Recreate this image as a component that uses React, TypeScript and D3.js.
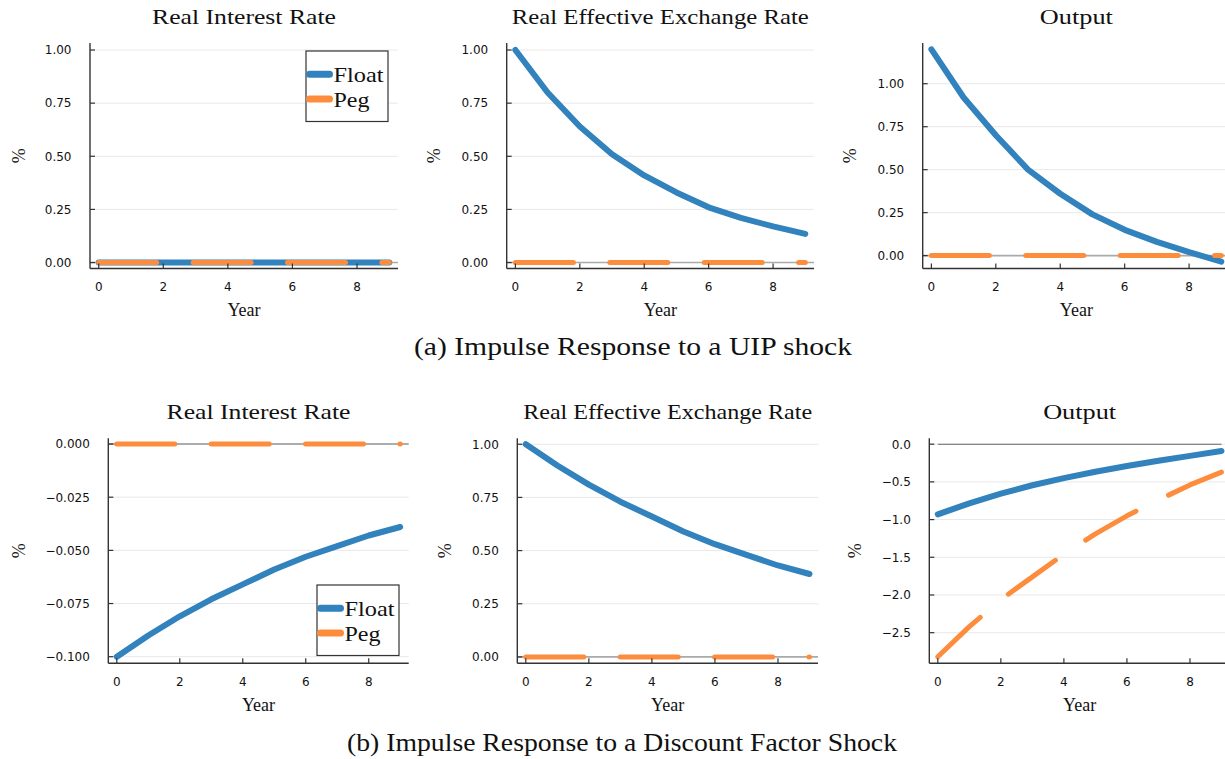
import React from 'react';
import * as d3 from 'd3';

// ---------- data ----------
const years = [0, 1, 2, 3, 4, 5, 6, 7, 8, 9];
const xTicks = [0, 2, 4, 6, 8];
const seriesNames = ['Float', 'Peg'];

const uipRateFloat = [0, 0, 0, 0, 0, 0, 0, 0, 0, 0];
const uipRatePeg = [0, 0, 0, 0, 0, 0, 0, 0, 0, 0];
const uipReerFloat = [1.0, 0.8, 0.64, 0.51, 0.41, 0.33, 0.26, 0.21, 0.17, 0.135];
const uipReerPeg = [0, 0, 0, 0, 0, 0, 0, 0, 0, 0];
const uipOutputFloat = [1.2, 0.92, 0.7, 0.5, 0.36, 0.24, 0.15, 0.08, 0.02, -0.035];
const uipOutputPeg = [0, 0, 0, 0, 0, 0, 0, 0, 0, 0];

const dfRateFloat = [-0.1, -0.09, -0.081, -0.073, -0.066, -0.059, -0.053, -0.048, -0.043, -0.039];
const dfRatePeg = [0, 0, 0, 0, 0, 0, 0, 0, 0, 0];
const dfReerFloat = [1.0, 0.9, 0.81, 0.73, 0.66, 0.59, 0.53, 0.48, 0.43, 0.39];
const dfReerPeg = [0, 0, 0, 0, 0, 0, 0, 0, 0, 0];
const dfOutputFloat = [-0.93, -0.785, -0.655, -0.545, -0.45, -0.365, -0.29, -0.22, -0.155, -0.09];
const dfOutputPeg = [-2.82, -2.42, -2.06, -1.76, -1.46, -1.19, -0.95, -0.74, -0.54, -0.37];

const ticksUnit = [0, 0.25, 0.5, 0.75, 1.0];
const ticksDfRate = [0, -0.025, -0.05, -0.075, -0.1];
const ticksDfOutput = [0, -0.5, -1.0, -1.5, -2.0, -2.5];

const titles = ['Real Interest Rate', 'Real Effective Exchange Rate', 'Output'];
const captions = ['(a) Impulse Response to a UIP shock', '(b) Impulse Response to a Discount Factor Shock'];
const xLabel = 'Year';
const yLabel = '%';

// ---------- layout / style ----------
const BLUE = '#3182bd';
const ORANGE = '#fd8d3c';
const SERIF = '"Liberation Serif", "Times New Roman", serif';
const SANS = '"DejaVu Sans", sans-serif';

const TOP_ROW = { top: 43, bottom: 268.5 };
const BOT_ROW = { top: 438.3, bottom: 663.3 };

type Panel = {
  title: string; titleLen: number;
  float: number[]; peg: number[];
  yDomain: [number, number]; yTicks: number[]; fmt: string;
  left: number; right: number; top: number; bottom: number;
  zero: { color: string; w: number; full: boolean };
  legend?: { x: number; y: number };
  pctX: number;
};

const panels: Panel[] = [
  { title: titles[0], titleLen: 184, float: uipRateFloat, peg: uipRatePeg, yDomain: [-0.028, 1.033], yTicks: ticksUnit, fmt: '.2f',
    left: 90, right: 398, ...TOP_ROW, zero: { color: '#aaaaaa', w: 1.6, full: true }, legend: { x: 306, y: 51 }, pctX: 20 },
  { title: titles[1], titleLen: 297, float: uipReerFloat, peg: uipReerPeg, yDomain: [-0.028, 1.033], yTicks: ticksUnit, fmt: '.2f',
    left: 506.7, right: 814, ...TOP_ROW, zero: { color: '#aaaaaa', w: 1.6, full: true }, pctX: 435 },
  { title: titles[2], titleLen: 73, float: uipOutputFloat, peg: uipOutputPeg, yDomain: [-0.075, 1.237], yTicks: ticksUnit, fmt: '.2f',
    left: 922.7, right: 1230, ...TOP_ROW, zero: { color: '#aaaaaa', w: 1.6, full: true }, pctX: 851 },
  { title: titles[0], titleLen: 184, float: dfRateFloat, peg: dfRatePeg, yDomain: [-0.1031, 0.0027], yTicks: ticksDfRate, fmt: '.3f',
    left: 108.3, right: 408.7, ...BOT_ROW, zero: { color: '#666666', w: 1.1, full: true }, legend: { x: 317, y: 585 }, pctX: 20 },
  { title: titles[1], titleLen: 289, float: dfReerFloat, peg: dfReerPeg, yDomain: [-0.03, 1.028], yTicks: ticksUnit, fmt: '.2f',
    left: 517.3, right: 818, ...BOT_ROW, zero: { color: '#aaaaaa', w: 1.6, full: true }, pctX: 446 },
  { title: titles[2], titleLen: 73, float: dfOutputFloat, peg: dfOutputPeg, yDomain: [-2.906, 0.078], yTicks: ticksDfOutput, fmt: '.1f',
    left: 929.3, right: 1230, ...BOT_ROW, zero: { color: '#666666', w: 1.1, full: false }, pctX: 856 },
];

function PanelView({ p }: { p: Panel }) {
  const x = d3.scaleLinear().domain([-0.27, 9.27]).range([p.left, p.right]);
  const y = d3.scaleLinear().domain(p.yDomain).range([p.bottom, p.top]);
  const fmt = d3.format(p.fmt);
  const line = d3.line<number>().x((_, i) => x(years[i])).y((v) => y(v));
  const cx = (p.left + p.right) / 2;
  const cy = (p.top + p.bottom) / 2;
  const zx0 = p.zero.full ? p.left : x(years[0]);
  const zx1 = p.zero.full ? p.right : x(years[years.length - 1]);
  return (
    <g>
      <defs>
        <clipPath id={`clip-${p.left}`}>
          <rect x={p.left} y={p.top - 10} width={p.right - p.left + 10} height={p.bottom - p.top + 20} />
        </clipPath>
      </defs>
      <text x={cx} y={p.top - 19} textAnchor="middle" fontFamily={SERIF} fontSize={22} fill="#111"
        textLength={p.titleLen} lengthAdjust="spacingAndGlyphs">{p.title}</text>
      {/* grid */}
      {p.yTicks.map((t) => (
        <line key={`g${t}`} x1={p.left} x2={p.right} y1={y(t)} y2={y(t)} stroke="#e8e8e8" strokeWidth={1} />
      ))}
      {/* zero line */}
      <line x1={zx0} x2={zx1} y1={y(0)} y2={y(0)} stroke={p.zero.color} strokeWidth={p.zero.w} />
      <g clipPath={`url(#clip-${p.left})`}>
        <path d={line(p.float) || ''} fill="none" stroke={BLUE} strokeWidth={6} strokeLinecap="round" strokeLinejoin="round" />
        <path d={line(p.peg) || ''} fill="none" stroke={ORANGE} strokeWidth={5} strokeLinecap="round" strokeLinejoin="round"
          strokeDasharray="58 36.4" />
      </g>
      {/* axes */}
      <line x1={p.left} x2={p.left} y1={p.top} y2={p.bottom} stroke="#333" strokeWidth={1.4} />
      <line x1={p.left} x2={p.right} y1={p.bottom} y2={p.bottom} stroke="#333" strokeWidth={1.4} />
      {p.yTicks.map((t) => (
        <g key={`y${t}`}>
          <line x1={p.left} x2={p.left + 5} y1={y(t)} y2={y(t)} stroke="#333" strokeWidth={1.2} />
          <text x={p.left - 18.5} y={y(t)} dy="0.36em" textAnchor="end" fontFamily={SANS} fontSize={12} fill="#111">{fmt(t)}</text>
        </g>
      ))}
      {xTicks.map((t) => (
        <g key={`x${t}`}>
          <line x1={x(t)} x2={x(t)} y1={p.bottom} y2={p.bottom - 5} stroke="#333" strokeWidth={1.2} />
          <text x={x(t)} y={p.bottom + 22.5} textAnchor="middle" fontFamily={SANS} fontSize={12} fill="#111">{t}</text>
        </g>
      ))}
      <text x={cx} y={p.bottom + 47.5} textAnchor="middle" fontFamily={SERIF} fontSize={18} fill="#111">{xLabel}</text>
      <text transform={`translate(${p.pctX + 5},${cy}) rotate(-90)`} textAnchor="middle" fontFamily={SERIF} fontSize={18} fill="#111">{yLabel}</text>
      {p.legend && (
        <g>
          <rect x={p.legend.x} y={p.legend.y} width={82} height={70.5} fill="#fff" stroke="#333" strokeWidth={1.2} />
          {seriesNames.map((n, i) => (
            <g key={n}>
              <line x1={p.legend!.x + 3.5} x2={p.legend!.x + 23.5} y1={p.legend!.y + 23.3 + i * 24.7} y2={p.legend!.y + 23.3 + i * 24.7}
                stroke={i === 0 ? BLUE : ORANGE} strokeWidth={7} strokeLinecap="round" />
              <text x={p.legend!.x + 27.5} y={p.legend!.y + 23.3 + i * 24.7 + 7.5} fontFamily={SERIF} fontSize={22} fill="#111"
                textLength={i === 0 ? 50 : 36} lengthAdjust="spacingAndGlyphs">{n}</text>
            </g>
          ))}
        </g>
      )}
    </g>
  );
}

export default function App() {
  return (
    <svg width={1225} height={759} viewBox="0 0 1225 759"
      style={{ position: 'absolute', left: 0, top: 0, display: 'block', background: '#fff' }}>
      <rect x={0} y={0} width={1225} height={759} fill="#fff" />
      {panels.map((p, i) => <PanelView key={i} p={p} />)}
      <text x={633} y={355} textAnchor="middle" fontFamily={SERIF} fontSize={25} fill="#111"
        textLength={438} lengthAdjust="spacingAndGlyphs">{captions[0]}</text>
      <text x={622} y={751} textAnchor="middle" fontFamily={SERIF} fontSize={25} fill="#111"
        textLength={550} lengthAdjust="spacingAndGlyphs">{captions[1]}</text>
    </svg>
  );
}
